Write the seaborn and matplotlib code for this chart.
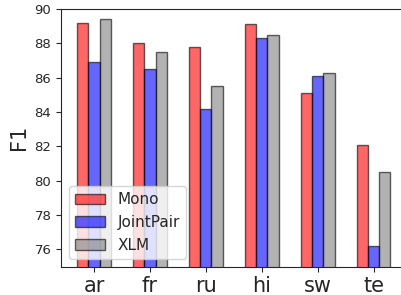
import pandas as pd
import matplotlib
matplotlib.use("Agg")
import matplotlib.pyplot as plt
import seaborn as sns

# languages on the x axis
languages = ["ar", "fr", "ru", "hi", "sw", "te"]
systems = ["Mono", "JointPair", "XLM"]

# F1 scores
mono = [89.2, 88.0, 87.8, 89.1, 85.1, 82.1]
joint_pair = [86.9, 86.5, 84.2, 88.3, 86.1, 76.2]
xlm = [89.4, 87.5, 85.5, 88.5, 86.3, 80.5]

# long format table for seaborn
df = pd.DataFrame({
    "lang": languages * 3,
    "system": ["Mono"] * 6 + ["JointPair"] * 6 + ["XLM"] * 6,
    "F1": mono + joint_pair + xlm,
})

sns.set_style("ticks")

fig = plt.figure(figsize=(4.01, 2.95), dpi=100)
ax = fig.add_axes([61 / 401, 28.5 / 295, 344 / 401, 257.5 / 295])

sns.barplot(data=df, x="lang", y="F1", hue="system", hue_order=systems,
            palette=["red", "blue", "gray"], saturation=1, width=0.6,
            alpha=0.6, edgecolor="black", linewidth=1.0, legend=False, ax=ax)

ax.set_ylim(75, 90)
ax.set_xlim(-0.59, 5.56)
ax.set_yticks([76, 78, 80, 82, 84, 86, 88, 90])
ax.tick_params(axis="y", labelsize=9.5)
ax.tick_params(axis="x", labelsize=15)
ax.set_xlabel("")
ax.set_ylabel("F1", fontsize=15)
ax.spines["right"].set_visible(False)

ax.legend(ax.containers, systems, loc="lower left", fontsize=11)

fig.savefig("out.png", dpi=100)
